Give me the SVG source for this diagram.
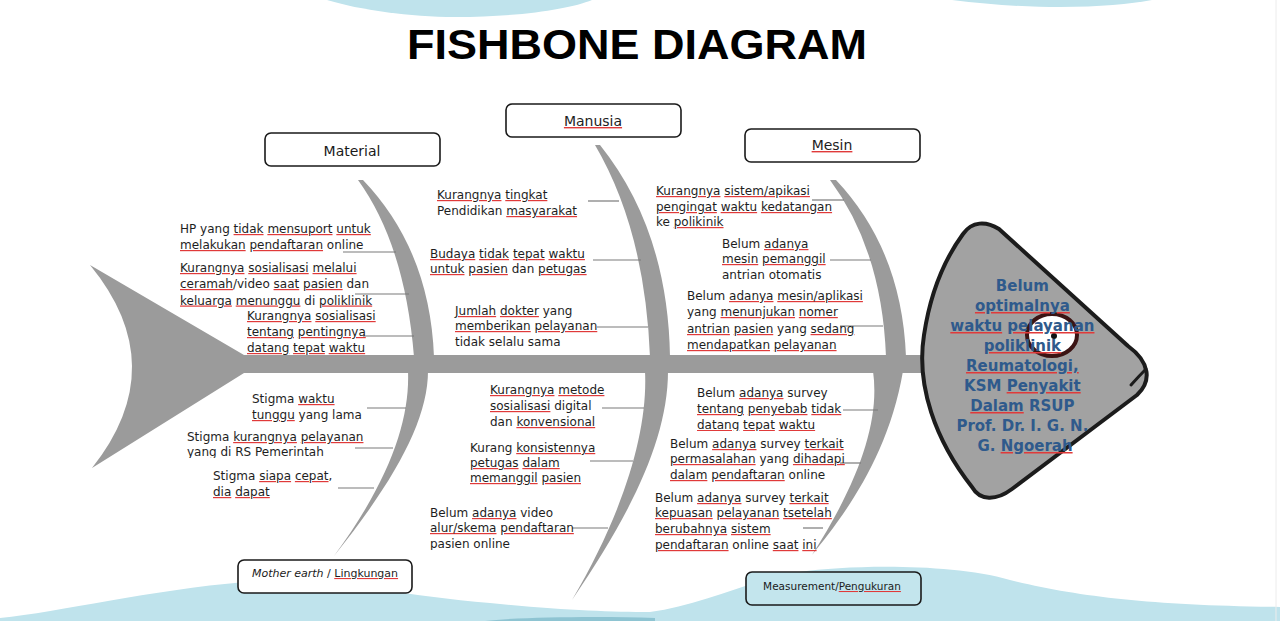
<svg xmlns="http://www.w3.org/2000/svg" width="1280" height="621" viewBox="0 0 1280 621">
<style>
.t{font-family:"DejaVu Sans",Verdana,sans-serif;font-size:12px;fill:#1e1e1e}
.u{text-decoration:underline;fill:#e03a3a}
.t .u tspan,.lbl .u tspan{fill:#1e1e1e}
.ht .u tspan{fill:#2f5a8c}
.box{fill:#fff;stroke:#1a1a1a;stroke-width:1.6}
.lbl{font-family:"DejaVu Sans",Verdana,sans-serif;font-size:14px;fill:#1a1a1a;text-anchor:middle}
.bone{fill:#9b9b9b}
.wave{fill:#bfe3ec}
.con line{stroke:#7a7a7a;stroke-width:1.2}
.ht{font-family:"DejaVu Sans",Verdana,sans-serif;font-weight:bold;font-size:15px;fill:#2f5a8c;text-anchor:middle}
</style>
<defs>
<clipPath id="c1"><rect x="0" y="0" width="1280" height="458"/></clipPath>
<clipPath id="c2"><rect x="0" y="0" width="1280" height="485"/></clipPath>
<clipPath id="c3"><rect x="0" y="0" width="1280" height="550"/></clipPath>
<clipPath id="c4"><rect x="0" y="0" width="1280" height="431"/></clipPath>
</defs>
<rect width="1280" height="621" fill="#fff"/>
<g id="background">
<path class="wave" d="M327,0 C360,10 410,17 455,17 C520,17 570,9 592,0 Z"/>
<path class="wave" d="M952,0 C990,5 1030,7 1060,7 C1100,7 1130,4 1152,0 Z"/>
<path class="wave" d="M0,621 L0,618 C60,612 150,590 245,582 C320,577 400,595 490,603 C560,610 610,612 650,612 C700,606 750,580 800,572 C850,565 950,563 1010,580 C1080,597 1150,605 1280,607 L1280,621 Z"/>
<path d="M485,621 C520,617 600,616 655,618 L655,621 Z" fill="#8ec4d2"/>
<line x1="1276" y1="0" x2="1276" y2="621" stroke="#ececec" stroke-width="1"/>
</g>
<text x="637" y="59" font-family="Liberation Sans, Arial, sans-serif" font-weight="bold" font-size="43" text-anchor="middle" textLength="460" lengthAdjust="spacingAndGlyphs" fill="#000">FISHBONE DIAGRAM</text>
<g id="skeleton">
<path id="tail" class="bone" d="M90,265 L244,355 L244,373 L92,468 Q173,366 90,265 Z"/>
<rect id="spine" class="bone" x="240" y="355" width="695" height="18"/>
<path class="bone" d="M358,180 Q405,245 414,357 L434,357 Q430,250 363,180 Z"/>
<path class="bone" d="M408,371 C410,420 390,480 334,556 C395,480 428,420 428,371 Z"/>
<path class="bone" d="M595,145 Q645,230 650,357 L670,357 Q668,230 600,145 Z"/>
<path class="bone" d="M645,371 C648,430 625,510 572,600 C630,515 668,440 668,371 Z"/>
<path class="bone" d="M830,180 Q882,250 886,357 L906,357 Q902,250 836,180 Z"/>
<path class="bone" d="M873,371 C880,420 860,480 812,555 C840,520 888,460 903,371 Z"/>
</g>
<g id="connectors" class="con">
<line x1="343" y1="252" x2="396" y2="252"/>
<line x1="355" y1="294" x2="409" y2="294"/>
<line x1="363" y1="336" x2="414" y2="336"/>
<line x1="588" y1="201" x2="619" y2="201"/>
<line x1="593" y1="260" x2="641" y2="260"/>
<line x1="597" y1="327" x2="648" y2="327"/>
<line x1="812" y1="200" x2="844" y2="200"/>
<line x1="830" y1="260" x2="871" y2="260"/>
<line x1="840" y1="326" x2="883" y2="326"/>
<line x1="367" y1="408" x2="406" y2="408"/>
<line x1="355" y1="448" x2="393" y2="448"/>
<line x1="338" y1="488" x2="374" y2="488"/>
<line x1="602" y1="408" x2="644" y2="408"/>
<line x1="590" y1="461" x2="633" y2="461"/>
<line x1="572" y1="528" x2="608" y2="528"/>
<line x1="843" y1="410" x2="878" y2="410"/>
<line x1="840" y1="463" x2="861" y2="463"/>
<line x1="803" y1="528" x2="823" y2="528"/>
</g>
<g id="head">
<path d="M963,234 C972,221 986,221 999,229 L1128,346 C1150,362 1152,381 1137,395 L1012,489 C996,501 980,501 972,487 C935,440 916,385 924,335 C930,295 944,260 963,234 Z" fill="#a2a2a2" stroke="#1c1c1c" stroke-width="4" stroke-linejoin="round"/>
<path d="M1131,385 Q1139,376 1146,369" fill="none" stroke="#1c1c1c" stroke-width="3" stroke-linecap="round"/>
<ellipse cx="1052" cy="335" rx="25" ry="21" fill="#fff" stroke="#3b1414" stroke-width="4"/>
<circle cx="1054" cy="336" r="3" fill="#111"/>
<text class="ht">
<tspan x="1025" y="291">Belum</tspan>
<tspan x="1025" y="311" class="u"><tspan>optimalnya</tspan></tspan>
<tspan x="1025" y="331"><tspan class="u"><tspan>waktu</tspan></tspan> <tspan class="u"><tspan>pelayanan</tspan></tspan></tspan>
<tspan x="1025" y="351" class="u"><tspan>poliklinik</tspan></tspan>
<tspan x="1025" y="371" class="u"><tspan>Reumatologi,</tspan></tspan>
<tspan x="1025" y="391">KSM <tspan class="u"><tspan>Penyakit</tspan></tspan></tspan>
<tspan x="1025" y="411"><tspan class="u"><tspan>Dalam</tspan></tspan> RSUP</tspan>
<tspan x="1025" y="431">Prof. Dr. I. G. N.</tspan>
<tspan x="1025" y="451">G. <tspan class="u"><tspan>Ngoerah</tspan></tspan></tspan>
</text>
</g>
<g id="cat-material">
<rect class="box" x="265" y="133" width="175" height="33" rx="6"/>
<text class="lbl" x="352" y="156">Material</text>
</g>
<g id="cat-manusia">
<rect class="box" x="506" y="104" width="175" height="33" rx="6"/>
<text class="lbl" x="593" y="126"><tspan class="u"><tspan>Manusia</tspan></tspan></text>
</g>
<g id="cat-mesin">
<rect class="box" x="745" y="129" width="175" height="33" rx="6"/>
<text class="lbl" x="832" y="150"><tspan class="u"><tspan>Mesin</tspan></tspan></text>
</g>
<g id="cat-lingkungan">
<rect class="box" x="238" y="560" width="174" height="33" rx="6"/>
<text class="lbl" x="325" y="577" style="font-size:11px"><tspan font-style="italic">Mother earth</tspan> / <tspan class="u"><tspan>Lingkungan</tspan></tspan></text>
</g>
<g id="cat-pengukuran">
<rect class="box" x="746" y="572" width="175" height="33" rx="6" style="fill:#c3e5ed"/>
<text class="lbl" x="832" y="590" style="font-size:10.5px">Measurement/<tspan class="u"><tspan>Pengukuran</tspan></tspan></text>
</g>
<g id="cause-material-1"><text class="t">
<tspan x="180" y="233">HP yang <tspan class="u"><tspan>tidak</tspan></tspan> <tspan class="u"><tspan>mensuport</tspan></tspan> <tspan class="u"><tspan>untuk</tspan></tspan></tspan>
<tspan x="180" y="249"><tspan class="u"><tspan>melakukan</tspan></tspan> <tspan class="u"><tspan>pendaftaran</tspan></tspan> online</tspan>
</text></g>
<g id="cause-material-2"><text class="t">
<tspan x="180" y="272"><tspan class="u"><tspan>Kurangnya</tspan></tspan> <tspan class="u"><tspan>sosialisasi</tspan></tspan> <tspan class="u"><tspan>melalui</tspan></tspan></tspan>
<tspan x="180" y="288"><tspan class="u"><tspan>ceramah</tspan></tspan>/video <tspan class="u"><tspan>saat</tspan></tspan> <tspan class="u"><tspan>pasien</tspan></tspan> dan</tspan>
<tspan x="180" y="304.5"><tspan class="u"><tspan>keluarga</tspan></tspan> <tspan class="u"><tspan>menunggu</tspan></tspan> di <tspan class="u"><tspan>poliklinik</tspan></tspan></tspan>
</text></g>
<g id="cause-material-3"><text class="t">
<tspan x="247" y="320"><tspan class="u"><tspan>Kurangnya</tspan></tspan> <tspan class="u"><tspan>sosialisasi</tspan></tspan></tspan>
<tspan x="247" y="336"><tspan class="u"><tspan>tentang</tspan></tspan> <tspan class="u"><tspan>pentingnya</tspan></tspan></tspan>
<tspan x="247" y="352"><tspan class="u"><tspan>datang</tspan></tspan> <tspan class="u"><tspan>tepat</tspan></tspan> <tspan class="u"><tspan>waktu</tspan></tspan></tspan>
</text></g>
<g id="cause-manusia-1"><text class="t">
<tspan x="437" y="199"><tspan class="u"><tspan>Kurangnya</tspan></tspan> <tspan class="u"><tspan>tingkat</tspan></tspan></tspan>
<tspan x="437" y="215">Pendidikan <tspan class="u"><tspan>masyarakat</tspan></tspan></tspan>
</text></g>
<g id="cause-manusia-2"><text class="t">
<tspan x="430" y="258"><tspan class="u"><tspan>Budaya</tspan></tspan> <tspan class="u"><tspan>tidak</tspan></tspan> <tspan class="u"><tspan>tepat</tspan></tspan> <tspan class="u"><tspan>waktu</tspan></tspan></tspan>
<tspan x="430" y="273"><tspan class="u"><tspan>untuk</tspan></tspan> <tspan class="u"><tspan>pasien</tspan></tspan> dan <tspan class="u"><tspan>petugas</tspan></tspan></tspan>
</text></g>
<g id="cause-manusia-3"><text class="t">
<tspan x="455" y="315"><tspan class="u"><tspan>Jumlah</tspan></tspan> <tspan class="u"><tspan>dokter</tspan></tspan> yang</tspan>
<tspan x="455" y="330"><tspan class="u"><tspan>memberikan</tspan></tspan> <tspan class="u"><tspan>pelayanan</tspan></tspan></tspan>
<tspan x="455" y="346">tidak selalu sama</tspan>
</text></g>
<g id="cause-mesin-1"><text class="t">
<tspan x="656" y="195"><tspan class="u"><tspan>Kurangnya</tspan></tspan> <tspan class="u"><tspan>sistem/apikasi</tspan></tspan></tspan>
<tspan x="656" y="211"><tspan class="u"><tspan>pengingat</tspan></tspan> <tspan class="u"><tspan>waktu</tspan></tspan> <tspan class="u"><tspan>kedatangan</tspan></tspan></tspan>
<tspan x="656" y="226">ke <tspan class="u"><tspan>polikinik</tspan></tspan></tspan>
</text></g>
<g id="cause-mesin-2"><text class="t">
<tspan x="722" y="248">Belum <tspan class="u"><tspan>adanya</tspan></tspan></tspan>
<tspan x="722" y="263"><tspan class="u"><tspan>mesin</tspan></tspan> <tspan class="u"><tspan>pemanggil</tspan></tspan></tspan>
<tspan x="722" y="279">antrian otomatis</tspan>
</text></g>
<g id="cause-mesin-3"><text class="t">
<tspan x="687" y="300">Belum <tspan class="u"><tspan>adanya</tspan></tspan> <tspan class="u"><tspan>mesin/aplikasi</tspan></tspan></tspan>
<tspan x="687" y="316">yang <tspan class="u"><tspan>menunjukan</tspan></tspan> <tspan class="u"><tspan>nomer</tspan></tspan></tspan>
<tspan x="687" y="333"><tspan class="u"><tspan>antrian</tspan></tspan> <tspan class="u"><tspan>pasien</tspan></tspan> yang <tspan class="u"><tspan>sedang</tspan></tspan></tspan>
<tspan x="687" y="349"><tspan class="u"><tspan>mendapatkan</tspan></tspan> <tspan class="u"><tspan>pelayanan</tspan></tspan></tspan>
</text></g>
<g id="cause-lingkungan-1"><text class="t">
<tspan x="252" y="403">Stigma <tspan class="u"><tspan>waktu</tspan></tspan></tspan>
<tspan x="252" y="419"><tspan class="u"><tspan>tunggu</tspan></tspan> yang lama</tspan>
</text></g>
<g id="cause-lingkungan-2" clip-path="url(#c1)"><text class="t">
<tspan x="187" y="441">Stigma <tspan class="u"><tspan>kurangnya</tspan></tspan> <tspan class="u"><tspan>pelayanan</tspan></tspan></tspan>
<tspan x="187" y="456">yang di RS Pemerintah</tspan>
</text></g>
<g id="cause-lingkungan-3"><text class="t">
<tspan x="213" y="480">Stigma <tspan class="u"><tspan>siapa</tspan></tspan> <tspan class="u"><tspan>cepat</tspan></tspan>,</tspan>
<tspan x="213" y="496"><tspan class="u"><tspan>dia</tspan></tspan> <tspan class="u"><tspan>dapat</tspan></tspan></tspan>
</text></g>
<g id="cause-metode-1"><text class="t">
<tspan x="490" y="394"><tspan class="u"><tspan>Kurangnya</tspan></tspan> <tspan class="u"><tspan>metode</tspan></tspan></tspan>
<tspan x="490" y="410"><tspan class="u"><tspan>sosialisasi</tspan></tspan> digital</tspan>
<tspan x="490" y="426">dan <tspan class="u"><tspan>konvensional</tspan></tspan></tspan>
</text></g>
<g id="cause-metode-2" clip-path="url(#c2)"><text class="t">
<tspan x="470" y="452">Kurang <tspan class="u"><tspan>konsistennya</tspan></tspan></tspan>
<tspan x="470" y="467"><tspan class="u"><tspan>petugas</tspan></tspan> <tspan class="u"><tspan>dalam</tspan></tspan></tspan>
<tspan x="470" y="482"><tspan class="u"><tspan>memanggil</tspan></tspan> <tspan class="u"><tspan>pasien</tspan></tspan></tspan>
</text></g>
<g id="cause-metode-3" clip-path="url(#c3)"><text class="t">
<tspan x="430" y="517">Belum <tspan class="u"><tspan>adanya</tspan></tspan> video</tspan>
<tspan x="430" y="532"><tspan class="u"><tspan>alur/skema</tspan></tspan> <tspan class="u"><tspan>pendaftaran</tspan></tspan></tspan>
<tspan x="430" y="548">pasien online</tspan>
</text></g>
<g id="cause-pengukuran-1" clip-path="url(#c4)"><text class="t">
<tspan x="697" y="397">Belum <tspan class="u"><tspan>adanya</tspan></tspan> survey</tspan>
<tspan x="697" y="413"><tspan class="u"><tspan>tentang</tspan></tspan> <tspan class="u"><tspan>penyebab</tspan></tspan> <tspan class="u"><tspan>tidak</tspan></tspan></tspan>
<tspan x="697" y="429"><tspan class="u"><tspan>datang</tspan></tspan> <tspan class="u"><tspan>tepat</tspan></tspan> <tspan class="u"><tspan>waktu</tspan></tspan></tspan>
</text></g>
<g id="cause-pengukuran-2"><text class="t">
<tspan x="670" y="448">Belum <tspan class="u"><tspan>adanya</tspan></tspan> survey <tspan class="u"><tspan>terkait</tspan></tspan></tspan>
<tspan x="670" y="463"><tspan class="u"><tspan>permasalahan</tspan></tspan> yang <tspan class="u"><tspan>dihadapi</tspan></tspan></tspan>
<tspan x="670" y="479"><tspan class="u"><tspan>dalam</tspan></tspan> <tspan class="u"><tspan>pendaftaran</tspan></tspan> online</tspan>
</text></g>
<g id="cause-pengukuran-3"><text class="t">
<tspan x="655" y="502">Belum <tspan class="u"><tspan>adanya</tspan></tspan> survey <tspan class="u"><tspan>terkait</tspan></tspan></tspan>
<tspan x="655" y="517"><tspan class="u"><tspan>kepuasan</tspan></tspan> <tspan class="u"><tspan>pelayanan</tspan></tspan> <tspan class="u"><tspan>tsetelah</tspan></tspan></tspan>
<tspan x="655" y="533"><tspan class="u"><tspan>berubahnya</tspan></tspan> <tspan class="u"><tspan>sistem</tspan></tspan></tspan>
<tspan x="655" y="549"><tspan class="u"><tspan>pendaftaran</tspan></tspan> online <tspan class="u"><tspan>saat</tspan></tspan> <tspan class="u"><tspan>ini</tspan></tspan></tspan>
</text></g>
</svg>
